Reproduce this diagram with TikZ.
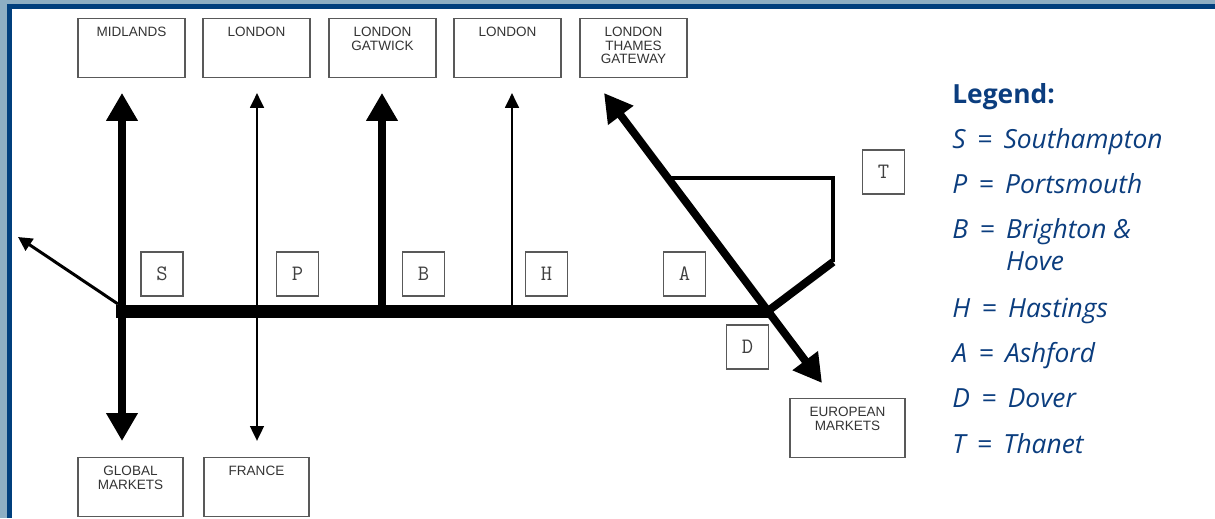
\documentclass[tikz,border=0pt]{standalone}
\usepackage{fontspec}
\setmainfont{Liberation Sans}
\newfontfamily\legendfont{Open Sans}
\usetikzlibrary{arrows.meta}
\definecolor{frameblue}{HTML}{003F7D}
\definecolor{framegrey}{HTML}{8DAEC3}
\definecolor{legendblue}{HTML}{0B3D7E}
\newcommand{\legitem}[2]{#1\hspace{6.5pt}=\hspace{6.5pt}#2}
\tikzstyle{citybox} = [rectangle, draw=black!65, line width=0.6pt, anchor=north,
    text width=2.14cm, align=center, inner sep=0pt, text height=10.5pt, text depth=23pt,
    font=\fontsize{7.7}{7.6}\selectfont, text=black!80]
\tikzstyle{letterbox} = [rectangle, draw=black!65, line width=0.6pt, inner sep=0pt,
    minimum width=0.84cm, minimum height=0.88cm, font=\ttfamily\fontsize{12.5}{12.5}\selectfont, text=black!75]
\tikzstyle{legendline} = [anchor=base west, inner sep=0pt, text=legendblue,
    font=\legendfont\itshape\fontsize{15}{18}\selectfont]
\tikzstyle{bigroute} = [draw, line width=4.5pt, {Triangle[width=0.6cm,length=0.56cm]}-{Triangle[width=0.6cm,length=0.56cm]}]
\tikzstyle{smallroute} = [draw, line width=1.7pt, {Triangle[width=0.27cm,length=0.3cm]}-{Triangle[width=0.27cm,length=0.3cm]}]

\begin{document}
\begin{tikzpicture}[x=0.02cm, y=-0.02cm]
    \useasboundingbox (0,0) rectangle (1215,518);
    % Frame
    \fill[framegrey] (0,0) rectangle (1215,4);
    \fill[frameblue] (0,4) rectangle (1215,9);
    \fill[framegrey] (0,0) rectangle (7,518);
    \fill[frameblue] (7,4) rectangle (12,518);
    % Place nodes
    \node [citybox] (mid) at (131.5,18) {MIDLANDS};
    \node [citybox] (lonA) at (256.5,18) {LONDON};
    \node [citybox] (gat) at (382.5,18) {LONDON\\GATWICK};
    \node [citybox] (lonB) at (507.5,18) {LONDON};
    \node [citybox] (tgw) at (633.5,18) {LONDON\\THAMES\\GATEWAY};
    \node [citybox, text width=2.1cm] (glob) at (130.5,457) {GLOBAL\\MARKETS};
    \node [citybox, text width=2.1cm] (fra) at (256.5,457) {FRANCE};
    \node [citybox, text width=2.3cm] (euro) at (847.5,398) {EUROPEAN\\MARKETS};
    \node [letterbox] (boxS) at (162,274) {S};
    \node [letterbox] (boxP) at (297.5,274) {P};
    \node [letterbox] (boxB) at (423.5,274) {B};
    \node [letterbox] (boxH) at (546.5,274) {H};
    \node [letterbox] (boxA) at (684.5,274) {A};
    \node [letterbox] (boxD) at (747.5,347) {D};
    \node [letterbox] (boxT) at (883.5,172) {T};
    % Legend
    \node [legendline, font=\legendfont\bfseries\fontsize{15}{16}\selectfont] (leg) at (952,103) {Legend:};
    \node [legendline] (legS) at (952,148) {\legitem{S}{Southampton}};
    \node [legendline] (legP) at (952,193) {\legitem{P}{Portsmouth}};
    \node [legendline, align=left] (legB) at (952,270) {\legitem{B}{Brighton \&}\\\hphantom{\legitem{B}{}}Hove};
    \node [legendline] (legH) at (952,317) {\legitem{H}{Hastings}};
    \node [legendline] (legA) at (952,362) {\legitem{A}{Ashford}};
    \node [legendline] (legD) at (952,407) {\legitem{D}{Dover}};
    \node [legendline] (legT) at (952,453) {\legitem{T}{Thanet}};
    % Junctions
    \coordinate (wEnd) at (116,311);
    \coordinate (jS) at (122,311);
    \coordinate (jP) at (257,311);
    \coordinate (jB) at (382,311);
    \coordinate (jH) at (512,311);
    \coordinate (jD) at (768,311);
    \coordinate (wStart) at (118,304);
    \coordinate (wTip) at (18,237);
    \coordinate (dTop) at (604,93);
    \coordinate (dBot) at (822,383);
    \coordinate (tKnee) at (833,262);
    \coordinate (tCorner) at (833,178);
    \coordinate (tJoin) at (668,178);
    % Draw edges
    \path [draw, line width=7.4pt] (wEnd) -- (jD);
    \path [bigroute, shorten <=0.32cm, shorten >=0.3cm] (jS |- glob.north) -- (jS |- mid.south);
    \path [smallroute, shorten <=0.32cm, shorten >=0.3cm] (jP |- fra.north) -- (jP |- lonA.south);
    \path [bigroute, -{Triangle[width=0.6cm,length=0.56cm]}, shorten >=0.3cm] (jB) -- (jB |- gat.south);
    \path [smallroute, -{Triangle[width=0.27cm,length=0.3cm]}, shorten >=0.3cm] (jH) -- (jH |- lonB.south);
    \path [smallroute, -{Triangle[width=0.28cm,length=0.28cm]}] (wStart) -- (wTip);
    \path [bigroute] (dTop) -- (dBot);
    \path [draw, line width=4.5pt] (jD) -- (tKnee);
    \path [draw, line width=2.4pt, line join=miter] (tKnee) -- (tCorner) -- (tJoin);
\end{tikzpicture}
\end{document}
